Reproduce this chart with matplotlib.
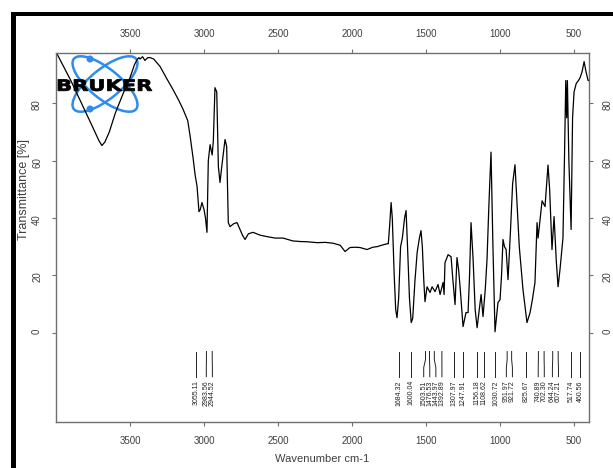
import numpy as np
import matplotlib.pyplot as plt
from matplotlib.patches import Ellipse, Circle, Rectangle, PathPatch
from matplotlib.textpath import TextPath
from matplotlib.font_manager import FontProperties
from matplotlib.transforms import Affine2D

plt.rcParams['font.family'] = ['Liberation Sans', 'DejaVu Sans']

# spectrum (wavenumber cm-1, transmittance %)
wavenumber = [4000, 3900, 3800, 3750, 3710, 3690, 3670, 3640, 3600, 3550, 3500, 3470,
              3453, 3440, 3432, 3415, 3399, 3380, 3365, 3340, 3297, 3250, 3209, 3170,
              3142, 3110, 3095, 3074, 3060, 3047, 3034, 3025, 3014, 3000, 2990, 2980,
              2971, 2959, 2953, 2945, 2937, 2926, 2914, 2903, 2892, 2880, 2858, 2847,
              2836, 2824, 2800, 2777, 2757, 2740, 2723, 2700, 2669, 2620, 2574, 2520,
              2466, 2400, 2351, 2300, 2236, 2180, 2128, 2080, 2047, 2014, 1980, 1946,
              1899, 1860, 1831, 1800, 1764, 1755, 1745, 1736, 1728, 1715, 1705, 1696,
              1685, 1672, 1660, 1645, 1635, 1625, 1612, 1600, 1590, 1575, 1560, 1545,
              1534, 1525, 1515, 1507, 1493, 1473, 1459, 1439, 1419, 1405, 1385, 1378,
              1372, 1351, 1331, 1318, 1304, 1291, 1280, 1270, 1250, 1230, 1216, 1206,
              1196, 1182, 1168, 1155, 1140, 1128, 1115, 1100, 1088, 1075, 1061, 1048,
              1034, 1014, 1000, 990, 980, 970, 959, 946, 930, 915, 899, 885, 870, 845,
              818, 797, 780, 764, 750, 743, 716, 696, 676, 665, 649, 635, 620, 608,
              595, 575, 565, 556, 550, 545, 535, 520, 510, 500, 485, 470, 459, 446,
              432, 419, 405, 400]
transmittance = [98, 88, 77, 71.5, 67, 65.3, 66.5, 70, 76.5, 83, 89, 93.5,
                 95.2, 96, 95.5, 96.3, 95, 96, 96, 95.5, 92.9, 88.5, 84.8, 81,
                 78, 74, 69, 61, 55, 51, 42.2, 43, 45.4, 43, 40, 35,
                 60, 65.6, 64, 62, 67, 85.5, 84, 58, 52.4, 58, 67.4, 65,
                 38.4, 37, 38, 38.4, 36, 34, 32.5, 34.5, 35, 34, 33.5, 33,
                 33, 32, 31.8, 31.7, 31.4, 31.5, 31.2, 30.5, 28.3, 29.7, 29.8, 29.7,
                 29, 29.8, 30, 30.5, 31, 31, 38, 45.4, 40, 20, 8, 5.2,
                 12, 30, 33, 40, 42.6, 30, 12, 3.5, 5, 18, 28, 33,
                 35.6, 30, 18, 10.8, 16, 14, 16, 14.3, 16.8, 13.3, 17.5, 13.3,
                 24.4, 27.2, 26.5, 18, 9.8, 26.2, 22, 16, 2.1, 7, 7, 20,
                 38.4, 25.5, 8, 1.7, 8, 13.3, 5.6, 15, 25.5, 45, 63, 30,
                 0.3, 10.5, 11.5, 20, 32.5, 30, 29, 18.5, 35, 52, 58.6, 45, 30, 15,
                 3.5, 7, 12, 17.5, 38.4, 33, 46, 44, 58.5, 50, 29, 40.5, 25, 16,
                 22, 33, 60, 88, 75, 88, 60, 36, 75, 84, 87, 88, 89, 91,
                 94.6, 91, 88, 88]

peak_labels = ['3055.11', '2983.56', '2944.52', '1684.32', '1600.04', '1503.51',
               '1476.53', '1443.97', '1392.89', '1307.97', '1247.91', '1156.18',
               '1108.62', '1030.72', '951.97', '921.72', '825.67', '740.89',
               '702.30', '644.24', '607.21', '517.74', '460.56']
peak_wn = [float(s) for s in peak_labels]

xticks = [3500, 3000, 2500, 2000, 1500, 1000, 500]
yticks = [0, 20, 40, 60, 80]


def spread(pos, gap, n_iter=500):
    # push peak labels apart so they do not overlap
    p = np.array(pos, dtype=float)
    for _ in range(n_iter):
        moved = False
        for i in range(len(p) - 1):
            d = p[i] - p[i + 1]
            if d < gap - 1e-6:
                s = (gap - d) / 2
                p[i] += s
                p[i + 1] -= s
                moved = True
        if not moved:
            break
    return p


W, H = 613, 468
fig = plt.figure(figsize=(W / 100, H / 100), dpi=100)

# thick screenshot border (left and top)
fig.add_artist(Rectangle((11 / W, 0), 5 / W, (H - 12) / H, transform=fig.transFigure,
                         color='black', lw=0))
fig.add_artist(Rectangle((11 / W, 1 - 16 / H), 1, 4 / H, transform=fig.transFigure,
                         color='black', lw=0))

ax = fig.add_axes([56 / W, (H - 422) / H, 533 / W, 369 / H])
ax.set_zorder(2)
ax.patch.set_alpha(0)

ax.plot(wavenumber, transmittance, color='black', lw=0.9)

ax.set_xlim(4000, 399)
ax.set_ylim(-31.2, 97.6)

# peak markers with labels below the curve
y_top, y_k1, y_k2, y_bot, y_txt = -6.6, -9.4, -12.2, -15.4, -16.6
lab_x = spread(peak_wn, 41)
for wn, lx, txt in zip(peak_wn, lab_x, peak_labels):
    ax.plot([wn, wn, lx, lx], [y_top, y_k1, y_k2, y_bot], color='#222222', lw=0.7)
    ax.text(lx, y_txt, txt, rotation=90, ha='center', va='top', fontsize=5,
            color='#222222')

ax.set_xticks(xticks)
ax.set_yticks(yticks)
ax.tick_params(axis='both', direction='out', length=3, width=0.8, color='#707070',
               labelsize=7, labelcolor='#404040', pad=7)
ax.tick_params(axis='x', top=True, labeltop=True)
ax.tick_params(axis='y', right=True, labelright=True, labelrotation=90)
for sp in ax.spines.values():
    sp.set_color('#707070')
    sp.set_linewidth(1)

ax.set_xlabel('Wavenumber cm-1', fontsize=8, color='#404040')
ax.set_ylabel('Transmittance [%]', fontsize=9, color='#404040')
ax.yaxis.set_label_coords(-0.049, 0.63)
ax.xaxis.set_label_coords(0.5, -0.088)

# Bruker logo, drawn in pixel units
lg = fig.add_axes([56 / W, 1 - 120 / H, 104 / W, 67 / H])
lg.set_zorder(1)
lg.set_xlim(56, 160)
lg.set_ylim(120, 53)
lg.axis('off')
blue = '#2d8cf0'
for ang in (39, -39):
    lg.add_patch(Ellipse((105, 84), 80, 30, angle=ang, fill=False, ec=blue, lw=1.8))
for cy in (59, 109):
    lg.add_patch(Circle((90, cy), 2.8, color=blue))
tp = TextPath((0, 0), 'BRUKER', size=1, prop=FontProperties(family='DejaVu Sans', weight='bold'))
ext = tp.get_extents()
sx = 94 / ext.width
sy = 11.5 / ext.height
tr = Affine2D().translate(-ext.x0, -ext.y0).scale(sx, -sy).translate(58, 91) + lg.transData
lg.add_patch(PathPatch(tp, transform=tr, fc='black', ec='black', lw=0.6))

fig.savefig('out.png', dpi=100)
